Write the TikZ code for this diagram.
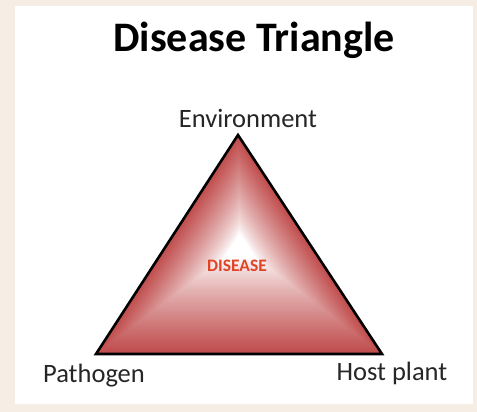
\documentclass[tikz,border=0pt]{standalone}
\usepackage{fontspec}
\setmainfont{Carlito}
\usetikzlibrary{calc}
\definecolor{bgbeige}{RGB}{246,238,229}
\definecolor{diseasered}{RGB}{192,76,76}
\definecolor{labelred}{RGB}{224,68,38}

\begin{document}
\begin{tikzpicture}[x=1pt, y=-1pt, every node/.style={inner sep=0pt, anchor=base},
	title/.style={font=\fontsize{42}{42}\selectfont\bfseries},
	corner/.style={font=\fontsize{26.5}{26.5}\selectfont, text=black!85},
	centrelabel/.style={font=\fontsize{17.5}{17.5}\selectfont\bfseries, text=labelred}]
	\useasboundingbox (0,0) rectangle (477,412);
	\fill[bgbeige] (0,0) rectangle (477,412);
	\fill[white] (15,6) rectangle (473,404);
	% triangle corners and the white centre of the gradient
	\coordinate (env) at (238,135);
	\coordinate (path) at (96,354);
	\coordinate (host) at (382,354);
	\coordinate (ctr) at (240,246);
	\foreach \k in {60,59,...,1}{
		\pgfmathsetmacro\t{\k/60}
		\pgfmathsetmacro\p{100*(max(0,(\t-0.12)/0.88))^0.8}
		\fill[diseasered!\p!white] ($(ctr)!\t!(env)$) -- ($(ctr)!\t!(path)$) -- ($(ctr)!\t!(host)$) -- cycle;
	}
	\draw[line width=2.6pt, line join=miter] (env) -- (path) -- (host) -- cycle;
	\node[title] (T) at (254,52) {Disease Triangle};
	\node[corner] (E) at (248,128) {Environment};
	\node[corner] (P) at (94,382) {Pathogen};
	\node[corner] (H) at (392,380) {Host plant};
	\node[centrelabel] (D) at (237,271) {DISEASE};
\end{tikzpicture}
\end{document}
